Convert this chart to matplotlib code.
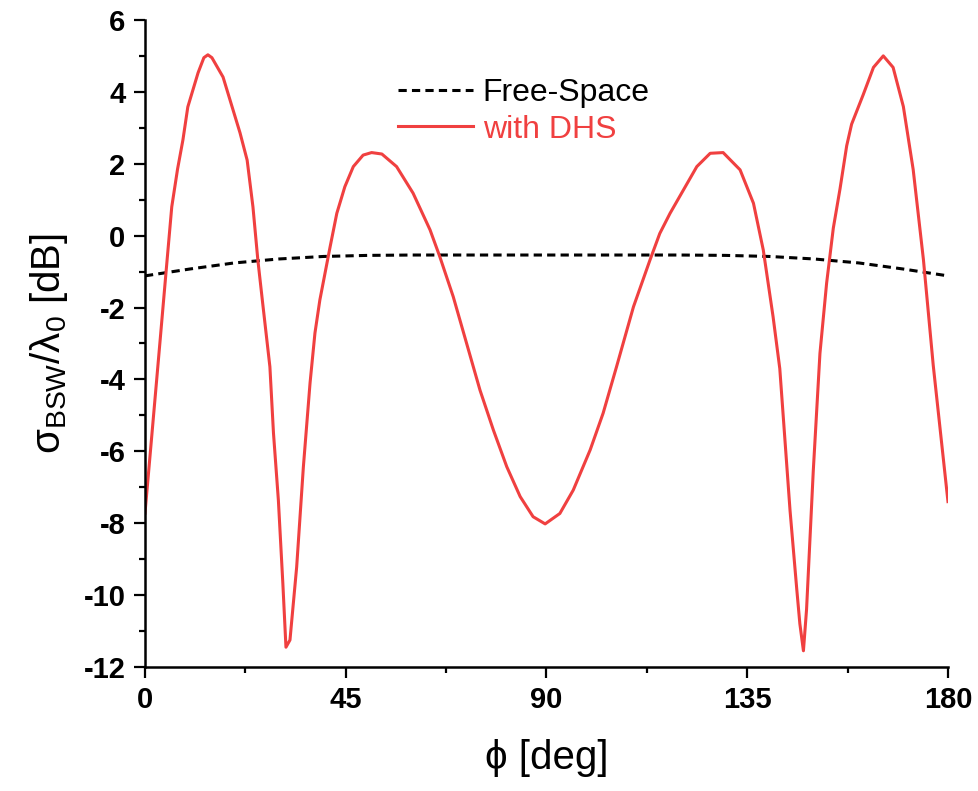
import matplotlib
matplotlib.use("Agg")
import matplotlib.pyplot as plt
from matplotlib.ticker import MultipleLocator

plt.rcParams["font.family"] = ["Liberation Sans", "DejaVu Sans"]
plt.rcParams["axes.unicode_minus"] = False
plt.rcParams["mathtext.fontset"] = "custom"
plt.rcParams["mathtext.rm"] = "Liberation Sans"
plt.rcParams["mathtext.it"] = "Liberation Sans:italic"

# backscattering width vs angle
phi_fs = [0, 10, 20, 30, 40, 50, 60, 70, 80, 90, 100, 110, 120, 130, 140, 150, 160, 170, 180]
sigma_fs = [-1.12, -0.93, -0.76, -0.65, -0.58, -0.55, -0.54, -0.54, -0.54, -0.54,
            -0.54, -0.54, -0.54, -0.55, -0.58, -0.65, -0.76, -0.93, -1.12]

phi_dhs = [0, 1.5, 3.4, 4.7, 6.0, 7.3, 8.5, 9.6, 11.9, 13.2, 14.1, 15.0, 17.5, 21.3, 22.9,
           24.2, 25.3, 26.4, 28.0, 28.8, 29.9, 30.9, 31.6, 32.5, 34.0, 35.5, 37.0,
           38.1, 39.2, 41.5, 43.0, 44.8, 46.7, 48.9, 50.8, 53.1, 56.4, 60.1, 63.9,
           66.1, 69.1, 72.1, 75.1, 78.1, 81.1, 84.1, 87.0, 89.7, 93.0, 96.0, 99.8,
           102.7, 105.7, 109.5, 113.2, 115.4, 117.7, 120.7, 123.7, 126.7, 129.6,
           133.4, 136.4, 138.6, 140.8, 142.3, 144.6, 146.1, 146.8, 147.6, 148.3,
           149.8, 151.3, 152.8, 154.3, 155.8, 157.3, 158.4, 161.0, 163.3, 165.5,
           167.7, 170.0, 172.2, 174.5, 176.7, 180.0]
sigma_dhs = [-7.72, -5.6, -2.9, -1.04, 0.80, 1.85, 2.66, 3.58, 4.53, 4.95, 5.03, 4.95, 4.41,
             2.86, 2.10, 0.80, -0.68, -1.9, -3.65, -5.49, -7.36, -9.67, -11.45, -11.25,
             -9.22, -6.44, -4.1, -2.71, -1.79, -0.31, 0.62, 1.36, 1.92, 2.24, 2.31,
             2.27, 1.92, 1.18, 0.16, -0.59, -1.70, -3.0, -4.30, -5.41, -6.43, -7.26,
             -7.82, -8.02, -7.73, -7.08, -5.96, -4.94, -3.65, -1.98, -0.68, 0.06, 0.62,
             1.27, 1.92, 2.29, 2.31, 1.83, 0.90, -0.40, -2.26, -3.7, -7.65, -9.83,
             -10.8, -11.55, -10.4, -6.56, -3.28, -1.32, 0.21, 1.30, 2.50, 3.10, 3.92,
             4.68, 5.0, 4.68, 3.59, 1.84, -0.67, -3.61, -7.4]

x_ticks = [0, 45, 90, 135, 180]

fig = plt.figure(figsize=(9.79, 7.91), dpi=100)
ax = fig.add_axes([0.1481, 0.1568, 0.8202, 0.818])

ax.plot(phi_fs, sigma_fs, color="black", lw=2.2, ls=(0, (2.7, 1.7)), label="Free-Space")
ax.plot(phi_dhs, sigma_dhs, color="#f04040", lw=2.2, label="with DHS")

ax.set_xlim(0, 180)
ax.set_ylim(-12, 6)
ax.set_xticks(x_ticks)
ax.xaxis.set_minor_locator(MultipleLocator(22.5))
ax.yaxis.set_major_locator(MultipleLocator(2))
ax.yaxis.set_minor_locator(MultipleLocator(1))

for side in ["top", "right"]:
    ax.spines[side].set_visible(False)
for side in ["left", "bottom"]:
    ax.spines[side].set_linewidth(1.8)

ax.tick_params(which="major", direction="out", length=8, width=1.6, labelsize=21, pad=6)
ax.tick_params(which="minor", direction="out", length=4, width=1.6)
for lbl in ax.get_xticklabels() + ax.get_yticklabels():
    lbl.set_fontweight("bold")

ax.set_xlabel("ϕ [deg]", fontsize=29, labelpad=18)
ax.set_ylabel("$\\mathrm{σ_{BSW}/λ_0}$ [dB]", fontsize=29, labelpad=10)

leg = ax.legend(loc="upper left", bbox_to_anchor=(0.315, 0.91), frameon=False,
                fontsize=23, handlelength=2.35, handletextpad=0.3, labelspacing=0.2,
                borderpad=0, borderaxespad=0, labelcolor="linecolor")

fig.savefig("out.png", dpi=100)
